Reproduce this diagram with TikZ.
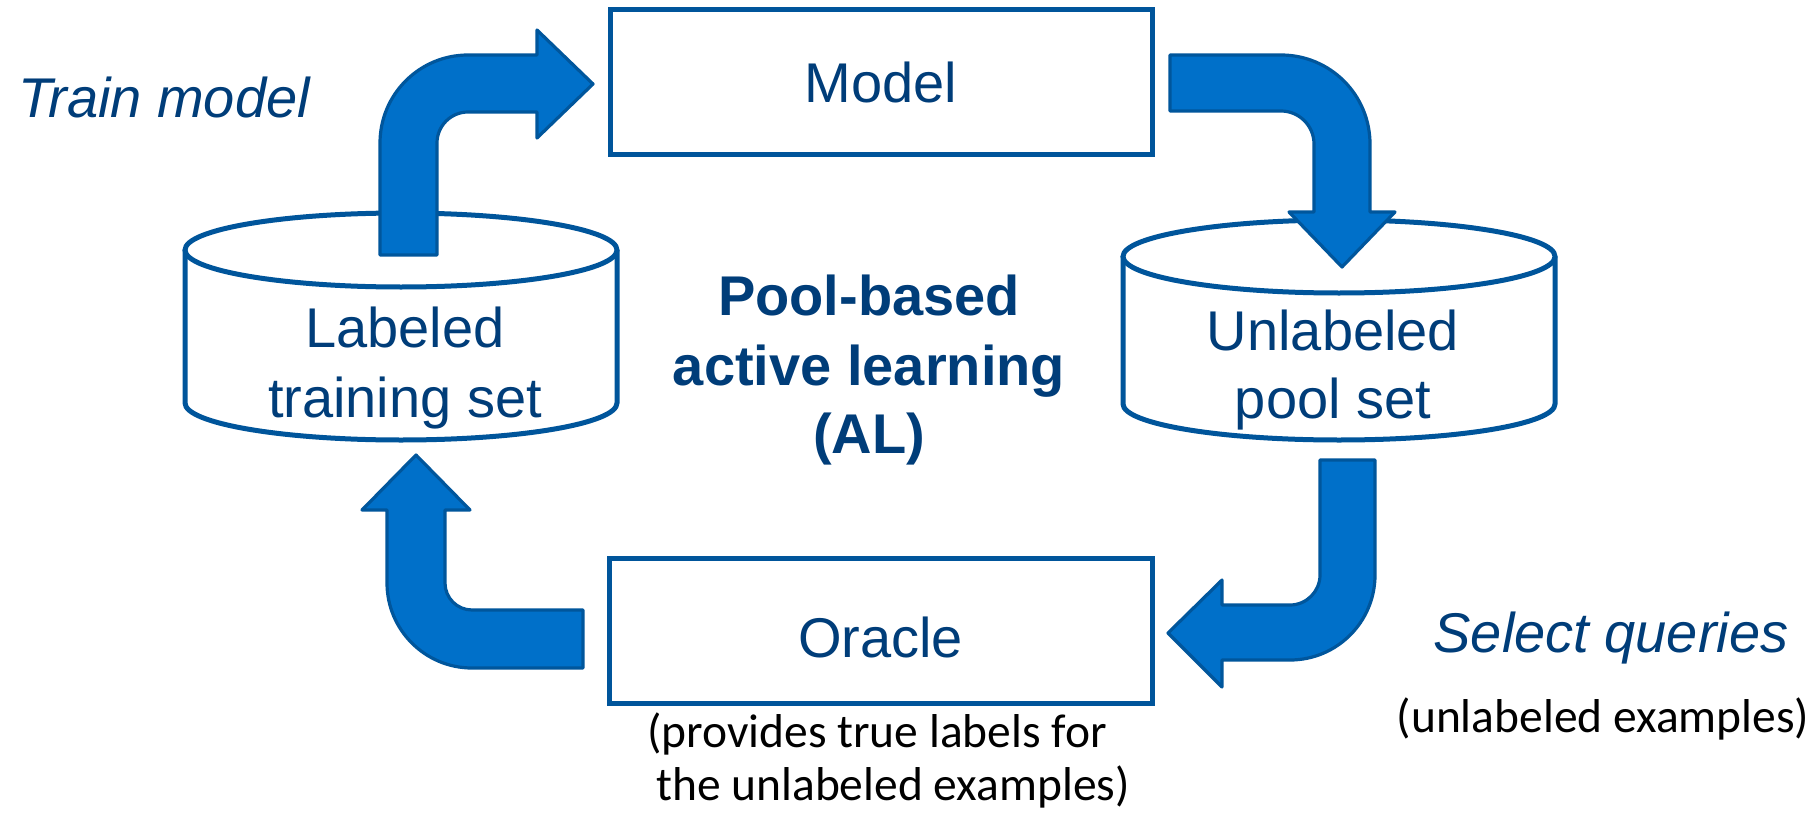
\documentclass[tikz,border=0pt]{standalone}
\usepackage{fontspec}
\setmainfont{Liberation Sans}
\newfontfamily\notefont{Carlito}
\newcommand{\mainsize}{\fontsize{28pt}{34pt}\selectfont}
\newcommand{\notesize}{\fontsize{23.75pt}{28pt}\selectfont}
\definecolor{lineblue}{RGB}{0,85,155}
\definecolor{textblue}{RGB}{0,61,121}
\definecolor{arrowblue}{RGB}{0,112,201}
\definecolor{arrowedge}{RGB}{0,86,156}

\begin{document}
\begin{tikzpicture}[x=0.5pt,y=-0.5pt,
  box/.style={draw=lineblue,line width=2.5pt,fill=white,inner sep=0pt,
    text=textblue,font=\mainsize},
  drum/.style={draw=lineblue,line width=2.5pt,fill=white},
  flow/.style={fill=arrowblue,draw=arrowedge,line width=1.6pt,line join=round},
  lbl/.style={inner sep=0pt,anchor=base,text=textblue,font=\mainsize},
  note/.style={inner sep=0pt,anchor=base,text=black,font=\notefont\notesize}]

\useasboundingbox[fill=white] (0,0) rectangle (1819,813);

% labeled training set (cylinder)
\draw[drum] (185,250) -- (185,403)
  .. controls (185,423.4) and (281.7,440) .. (401,440)
  .. controls (520.3,440) and (617,423.4) .. (617,403) -- (617,250);
\draw[drum] (401,250) ellipse [x radius=216, y radius=37];
\node[lbl] (lab1) at (405,347) {Labeled};
\node[lbl] (lab2) at (405,417) {training set};

% unlabeled pool set (cylinder)
\draw[drum] (1123,256.5) -- (1123,404)
  .. controls (1123,423.9) and (1219.7,440) .. (1339,440)
  .. controls (1458.3,440) and (1555,423.9) .. (1555,404) -- (1555,256.5);
\draw[drum] (1339,256.5) ellipse [x radius=216, y radius=36.5];
\node[lbl] (unl1) at (1333,350) {Unlabeled};
\node[lbl] (unl2) at (1333,418) {pool set};

% model and oracle boxes
\node[box, minimum width=271pt, minimum height=72pt] (model) at (881,82) {Model};
\node[box, minimum width=271.5pt, minimum height=72.5pt,
      text height=26.5pt, text depth=0pt] (oracle) at (880.5,630.5) {Oracle};

% centre title
\node[lbl, font=\mainsize\bfseries] (t1) at (869,315) {Pool-based};
\node[lbl, font=\mainsize\bfseries] (t2) at (869,385) {active learning};
\node[lbl, font=\mainsize\bfseries] (t3) at (869,453) {(AL)};

% step captions
\node[lbl, anchor=base west, font=\mainsize\itshape] (train) at (18,118) {Train model};
\node[lbl, font=\mainsize\itshape] (select) at (1611,652) {Select queries};
\node[note] (sel2) at (1603,732) {(unlabeled examples)};
\node[note] (or1) at (877,747) {(provides true labels for};
\node[note] (or2) at (893,800) {the unlabeled examples)};

% train: labeled set -> model
\draw[flow] (380,255) -- (380,143)
  .. controls (380,94.4) and (419.4,55) .. (468,55)
  -- (537,55) -- (537,30) -- (593,84) -- (537,138) -- (537,112) -- (468,112)
  .. controls (450.9,112) and (437,125.9) .. (437,143)
  -- (437,255) -- cycle;

% model -> unlabeled pool
\draw[flow] (1170,55) -- (1281,55)
  .. controls (1330.2,55) and (1370,94.8) .. (1370,144)
  -- (1370,212) -- (1395,212) -- (1342,267) -- (1289,212) -- (1314,212) -- (1314,144)
  .. controls (1314,125.8) and (1299.2,111) .. (1281,111)
  -- (1170,111) -- cycle;

% select queries: pool -> oracle
\draw[flow] (1320,460) -- (1375,460) -- (1375,575)
  .. controls (1375,621.9) and (1336.9,660) .. (1290,660)
  -- (1222,660) -- (1222,687) -- (1168,633) -- (1222,580) -- (1222,605) -- (1290,605)
  .. controls (1306.6,605) and (1320,591.4) .. (1320,575)
  -- cycle;

% oracle -> labeled set
\draw[flow] (583,610) -- (583,668) -- (472,668)
  .. controls (425.1,668) and (387,629.9) .. (387,583)
  -- (387,510) -- (362,510) -- (416,455) -- (470,510) -- (445,510) -- (445,583)
  .. controls (445,597.9) and (457.1,610) .. (472,610)
  -- cycle;
\end{tikzpicture}
\end{document}
